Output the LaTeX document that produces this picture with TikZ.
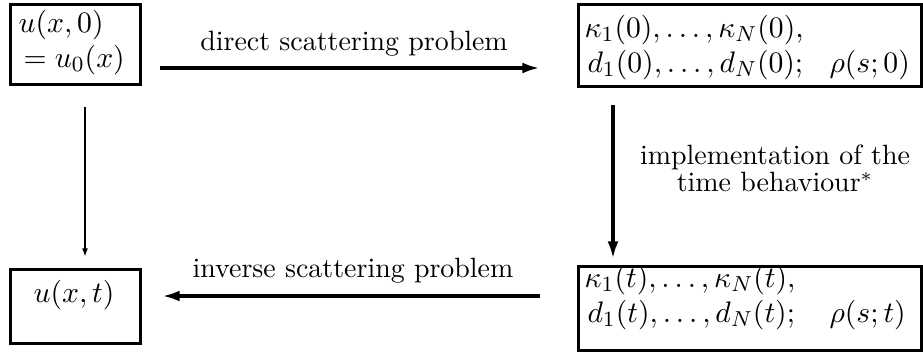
\documentclass[tikz,border=0pt]{standalone}
\usetikzlibrary{arrows.meta}
\begin{document}
\begin{tikzpicture}[x=0.369pt,y=-0.369pt,
  box/.style={draw, line width=1pt, inner sep=0pt, anchor=north west},
  lbl/.style={inner sep=0pt, anchor=base, font=\fontsize{10.3pt}{12pt}\selectfont},
  lblw/.style={inner sep=0pt, anchor=base west, font=\fontsize{11pt}{13pt}\selectfont},
  bigarrow/.style={line width=1.5pt, -{Latex[length=6.5pt,width=4pt]}},
  smallarrow/.style={line width=0.75pt, -{Latex[length=3.2pt,width=2.2pt]}}]
\useasboundingbox (0,0) rectangle (923,351);
% boxes
\node[box, minimum width={130*0.369pt}, minimum height={80*0.369pt}] (u0) at (9,3) {};
\node[box, minimum width={343*0.369pt}, minimum height={82*0.369pt}] (s0) at (577,3) {};
\node[box, minimum width={343*0.369pt}, minimum height={84*0.369pt}] (st) at (577,265) {};
\node[box, minimum width={130*0.369pt}, minimum height={74*0.369pt}] (ut) at (9,268) {};
% box texts
\node[lblw] (u0a) at (18,32) {$u(x,0)$};
\node[lblw] (u0b) at (23,67) {$= u_0(x)$};
\node[lblw] (s0a) at (584,37) {$\kappa_1(0),\ldots,\kappa_N(0),$};
\node[lblw] (s0b) at (587,72) {$d_1(0),\ldots,d_N(0);$};
\node[lblw] (s0c) at (829,72) {$\rho(s;0)$};
\node[lblw] (sta) at (584,287) {$\kappa_1(t),\ldots,\kappa_N(t),$};
\node[lblw] (stb) at (587,322) {$d_1(t),\ldots,d_N(t);$};
\node[lblw] (stc) at (829,322) {$\rho(s;t)$};
\node[lblw, anchor=base] (uta) at (74,302) {$u(x,t)$};
% arrow end points
\coordinate (a1s) at (160,68);  \coordinate (a1e) at (540,68);
\coordinate (a2s) at (613,105); \coordinate (a2e) at (613,259);
\coordinate (a3s) at (540,296); \coordinate (a3e) at (162,296);
\coordinate (a4s) at (85,107);  \coordinate (a4e) at (85,257);
\draw[bigarrow] (a1s) -- (a1e);
\draw[bigarrow] (a2s) -- (a2e);
\draw[bigarrow] (a3s) -- (a3e);
\draw[smallarrow] (a4s) -- (a4e);
% labels
\node[lbl] (l1) at (354,50) {direct scattering problem};
\node[lbl] (l2) at (353,277) {inverse scattering problem};
\node[inner sep=0pt, anchor=north, align=center,
      font=\fontsize{10.3pt}{9pt}\selectfont] (l3) at (775,144)
      {implementation of the\\time behaviour$^*$};
\end{tikzpicture}
\end{document}
